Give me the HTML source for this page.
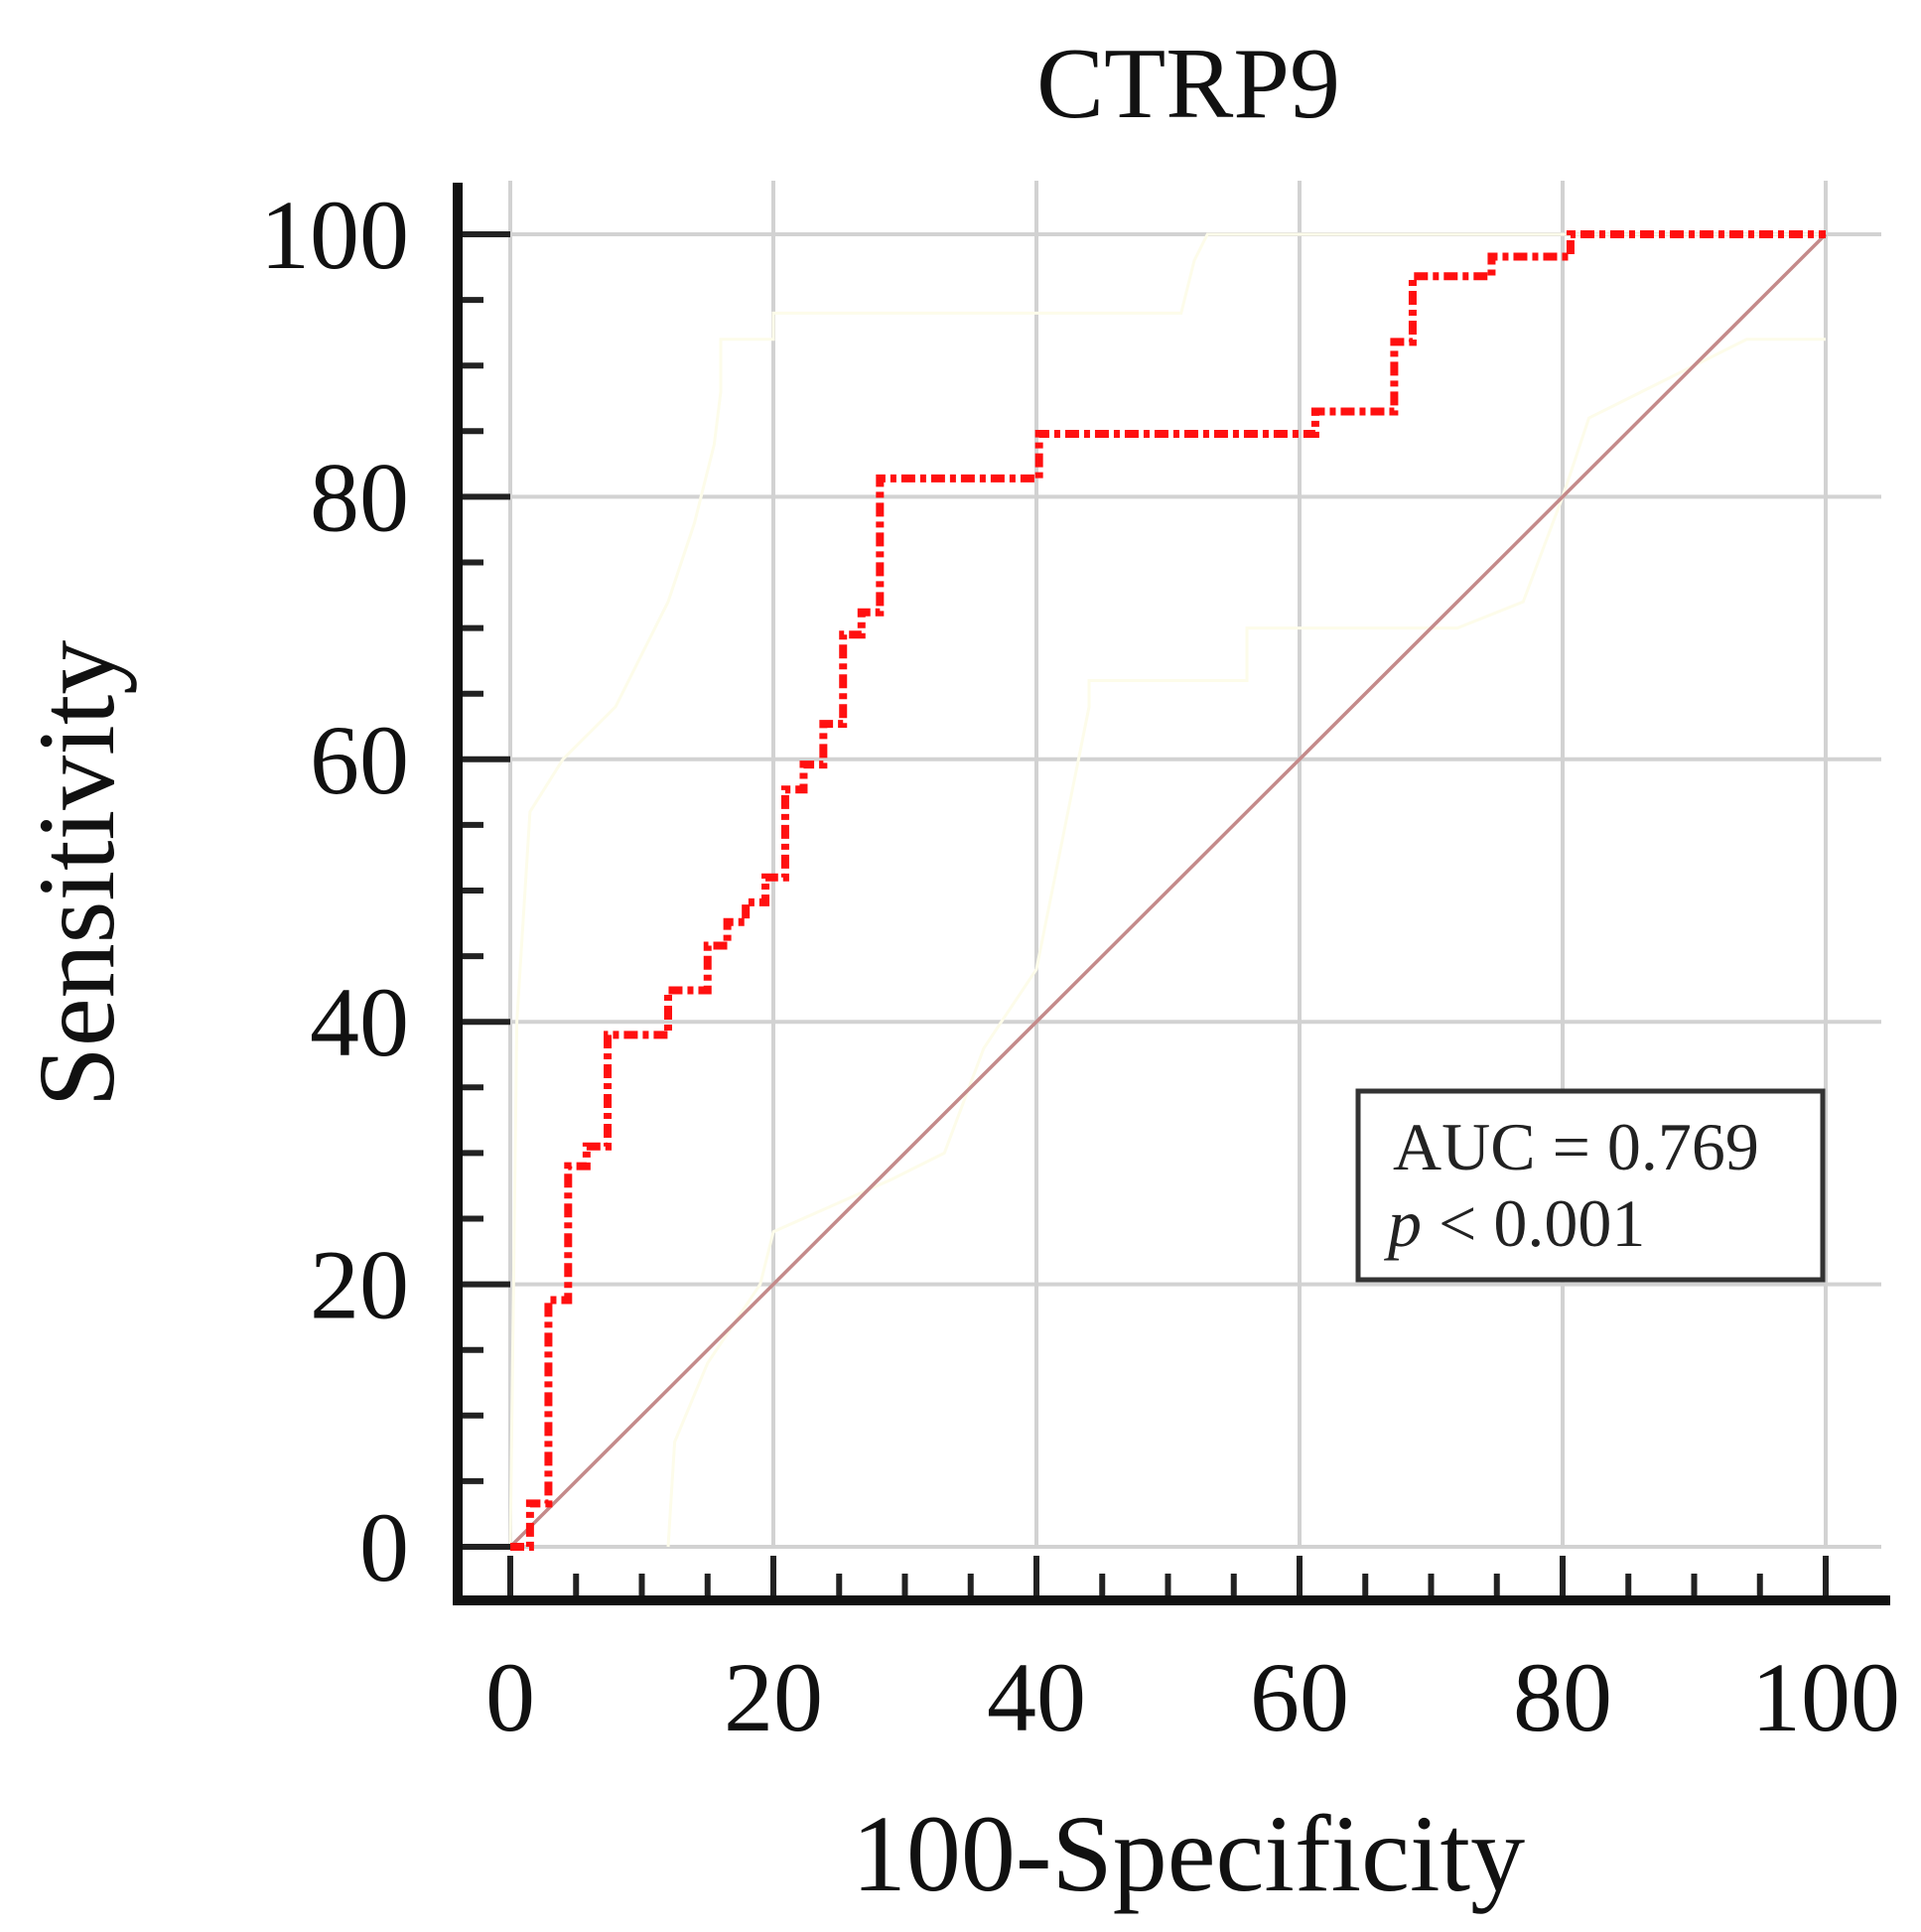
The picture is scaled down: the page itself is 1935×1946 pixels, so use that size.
<!DOCTYPE html>
<html><head><meta charset="utf-8"><style>
html,body{margin:0;padding:0;background:#fff;}
svg{display:block;font-family:"Liberation Serif",serif;}
</style></head><body>
<svg id="chart" width="1935" height="1946" viewBox="0 0 1935 1946" xmlns="http://www.w3.org/2000/svg">
<rect width="1935" height="1946" fill="#fff"/>
<text x="1197" y="118" font-size="102" text-anchor="middle" fill="#111">CTRP9</text>
<g id="grid"></g>
<g id="bands"></g>
<g id="diag"></g>
<g id="curve"></g>
<g id="axes"></g>
<g id="labels" font-size="100" fill="#111"></g>
<text x="1197" y="1904" font-size="110" text-anchor="middle" fill="#111">100-Specificity</text>
<text transform="translate(114,880) rotate(-90)" font-size="110" text-anchor="middle" fill="#111">Sensitivity</text>
<g>
<rect x="1368" y="1099" width="468" height="190" fill="#fff" stroke="#333" stroke-width="5"/>
<text x="1403" y="1178" font-size="68" fill="#222">AUC = 0.769</text>
<text x="1398" y="1255" font-size="68" fill="#222"><tspan font-style="italic">p</tspan> &lt; 0.001</text>
</g>
</svg>
<script>
const rocX=[0,1.5,2.9,4.4,5.8,7.4,12,15,16.5,17.9,19.4,20.9,22.3,23.8,25.3,26.7,28.1,40.2,61.2,67.2,68.6,74.6,80.6,100];
const rocY=[0,3.3,18.8,29,30.5,39,42.4,45.8,47.6,49.1,51,57.7,59.6,62.7,69.5,71.2,81.4,84.8,86.5,91.8,96.8,98.3,100,100];
const upperX=[0,0.5,1.5,4,8,10,12,14,15.5,16,16,20,20,51,52,53,100];
const upperY=[0,40,56,60,64,68,72,78,84,88,92,92,94,94,98,100,100];
const lowerX=[12,12.5,15,19,20,29,33,36,40,42,44,44,56,56,72,77,80,82,86,94,100];
const lowerY=[0,8,14,20,24,28,30,38,44,54,64,66,66,70,70,72,80,86,88,92,92];
const tickVals=[0,20,40,60,80,100];
const tickLabels=["0","20","40","60","80","100"];
const NS="http://www.w3.org/2000/svg";
const X=v=>514+13.25*v, Y=v=>1558-13.22*v;
function mk(tag,attrs,parent){const e=document.createElementNS(NS,tag);for(const k in attrs)e.setAttribute(k,attrs[k]);document.getElementById(parent).appendChild(e);return e;}
tickVals.forEach((v,i)=>{
 let g=mk('line',{x1:X(v),x2:X(v),y1:182,y2:1558,stroke:'#d2d2d2','stroke-width':4},'grid');
 
 
 let h=mk('line',{x1:X(0),x2:1895,y1:Y(v),y2:Y(v),stroke:'#d2d2d2','stroke-width':4},'grid');
 
 
 let tx=mk('text',{x:X(v),y:1743,'text-anchor':'middle'},'labels');tx.textContent=tickLabels[i];
 
 
 let ty=mk('text',{x:412,y:Y(v)+34,'text-anchor':'end'},'labels');ty.textContent=tickLabels[i];
 
 
});
for(let v=0;v<=100;v+=5){
 const major=v%20===0;
 let a=mk('line',{x1:X(v),x2:X(v),y1:major?1567:1585,y2:1612,stroke:'#222','stroke-width':6},'axes');
 
 
 let b=mk('line',{x1:460,x2:major?514:487,y1:Y(v),y2:Y(v),stroke:'#222','stroke-width':6},'axes');
 
 
}
let ax=mk('path',{d:'M461 184 V1612 H1904',fill:'none',stroke:'#111','stroke-width':10},'axes');


function stepPath(xs,ys){let d='M'+X(xs[0])+' '+Y(ys[0]);for(let i=1;i<xs.length;i++){d+=' H'+X(xs[i])+' V'+Y(ys[i]);}return d;}
function linePath(xs,ys){return xs.map((x,i)=>(i?'L':'M')+X(x)+' '+Y(ys[i])).join(' ');}
let ub=mk('path',{d:linePath(upperX,upperY),fill:'none',stroke:'#fdfcea','stroke-width':3},'bands');


let lb=mk('path',{d:linePath(lowerX,lowerY),fill:'none',stroke:'#fdfcea','stroke-width':3},'bands');


let dg=mk('line',{x1:X(0),y1:Y(0),x2:X(100),y2:Y(100),stroke:'#c48a8a','stroke-width':3.5},'diag');


let rc=mk('path',{d:stepPath(rocX,rocY),fill:'none',stroke:'#ff1010','stroke-width':8,'stroke-dasharray':'14 5 6 5'},'curve');


</script>
</body></html>
